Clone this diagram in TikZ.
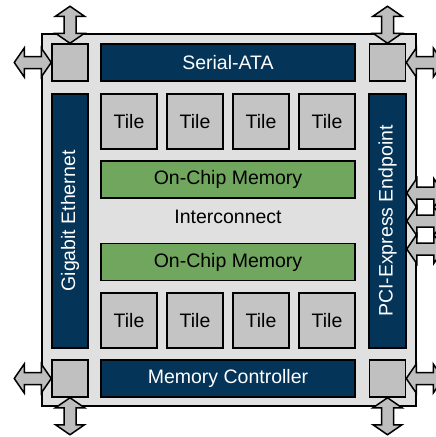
\documentclass[tikz,border=0pt]{standalone}
\usepackage{fontspec}
\setmainfont{Liberation Sans}
\usetikzlibrary{calc}

\definecolor{chipgray}{RGB}{224,224,224}
\definecolor{portgray}{RGB}{192,192,192}
\definecolor{tilegray}{RGB}{196,196,196}
\definecolor{busblue}{RGB}{4,52,88}
\definecolor{memgreen}{RGB}{112,166,94}
\definecolor{iogray}{RGB}{190,190,190}

\tikzset{
  blk/.style={draw, line width=1.5pt, inner sep=0pt, font=\fontsize{19.5}{22}\selectfont},
  bus/.style={blk, fill=busblue, text=white},
  port/.style={blk, fill=portgray, minimum width=36, minimum height=37},
  tile/.style={blk, fill=tilegray, minimum width=56, minimum height=55},
  mem/.style={blk, fill=memgreen, minimum width=254, minimum height=37},
  ioarrow/.style={draw, line width=1.5pt, fill=iogray},
  updown/.pic={\draw[ioarrow] (0,0) -- (14.5,-10) -- (6,-10) -- (6,-27) -- (14.5,-27)
     -- (0,-37) -- (-14.5,-27) -- (-6,-27) -- (-6,-10) -- (-14.5,-10) -- cycle;},
  leftright/.pic={\draw[ioarrow] (0,0) -- (-10,-14.5) -- (-10,-6) -- (-27,-6) -- (-27,-14.5)
     -- (-37,0) -- (-27,14.5) -- (-27,6) -- (-10,6) -- (-10,14.5) -- cycle;}
}

\begin{document}
\begin{tikzpicture}[x=1pt, y=-1pt]
  \clip (0,0) rectangle (436,437);
  \useasboundingbox (0,0) rectangle (436,437);

  % Chip
  \draw[line width=1.5pt, fill=chipgray] (42,34) rectangle (416,406);

  % Corner ports
  \node[port] (pTL) at (70,62.5) {};
  \node[port] (pTR) at (387.5,62.5) {};
  \node[port] (pBL) at (70,378.5) {};
  \node[port] (pBR) at (387.5,378.5) {};

  % Buses on the edges
  \node[bus, minimum width=254, minimum height=37] (sata) at (228,62.5) {Serial-ATA};
  \node[bus, minimum width=254, minimum height=37] (memctl) at (228,378.5) {Memory Controller};
  \node[bus, rotate=90, minimum width=254, minimum height=36] (gbe) at (70,221) {Gigabit Ethernet};
  \node[bus, rotate=90, minimum width=254, minimum height=37] (pcie) at (387.5,221) {PCI-Express Endpoint};

  % Tiles
  \foreach \i/\x in {1/129,2/195,3/261,4/327} {
    \node[tile] (tu\i) at (\x,121.5) {Tile};
    \node[tile] (tb\i) at (\x,320.5) {Tile};
  }

  % Memories and interconnect
  \node[mem] (memtop) at (228,179.5) {On-Chip Memory};
  \node[mem] (membot) at (228,262) {On-Chip Memory};
  \node[font=\fontsize{19.5}{22}\selectfont] (icon) at (228,217) {Interconnect};

  % I/O arrows
  \pic at (pTL.north) {updown};
  \pic at (pTR.north) {updown};
  \pic[yscale=-1] at (pBL.south) {updown};
  \pic[yscale=-1] at (pBR.south) {updown};
  \pic at (pTL.west) {leftright};
  \pic at (pBL.west) {leftright};
  \pic[xscale=-1] at (pTR.east) {leftright};
  \pic[xscale=-1] at (pBR.east) {leftright};
  \foreach \dy in {-28,0,28}
    \pic[xscale=-1] at ($(pcie.south)+(0,\dy)$) {leftright};
\end{tikzpicture}
\end{document}
